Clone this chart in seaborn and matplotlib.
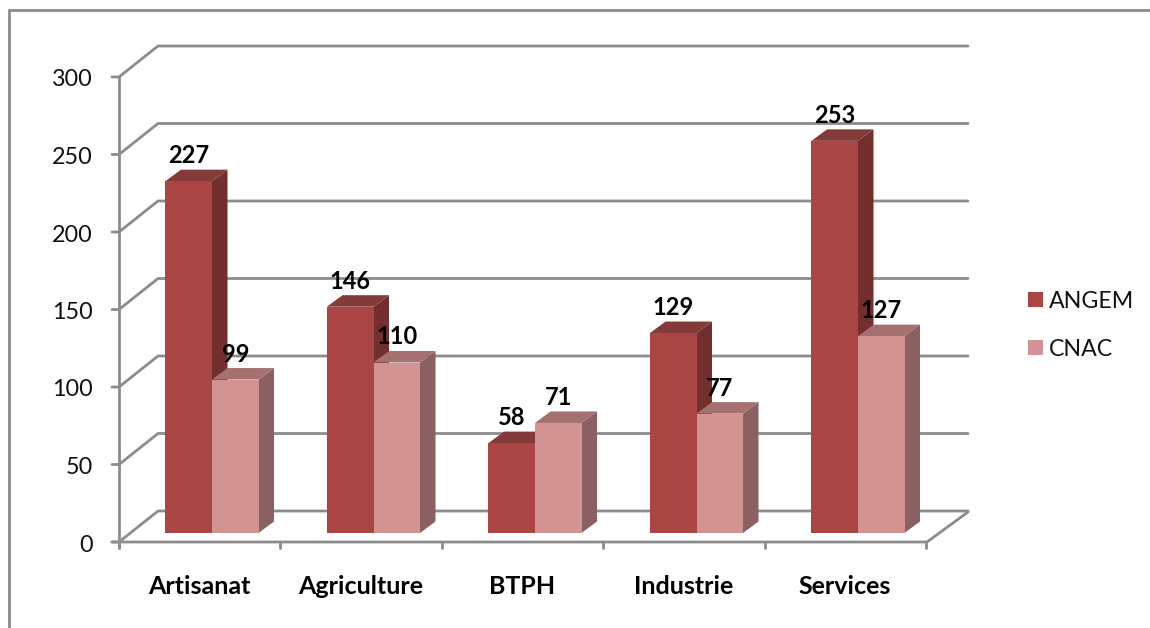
import numpy as np
import pandas as pd
import matplotlib
matplotlib.use("Agg")
import matplotlib.pyplot as plt
from matplotlib.patches import Polygon
import seaborn as sns

# data
categories = ["Artisanat", "Agriculture", "BTPH", "Industrie", "Services"]
angem = [227, 146, 58, 129, 253]
cnac = [99, 110, 71, 77, 127]
y_ticks = [0, 50, 100, 150, 200, 250, 300]

W, H = 1150, 628
CAT_PX = 161.5      # one category in pixels
UNIT_PX = 1.55      # one value unit in pixels
X0_PX, Y0_PX = 212, 533  # where category 0 / value 0 of the bars land

GRID = "#8c8c8c"
FRONT = {"ANGEM": "#a94643", "CNAC": "#d39392"}
SIDE = {"ANGEM": "#722f2d", "CNAC": "#8a6060"}
TOP = {"ANGEM": "#843a38", "CNAC": "#a47170"}


def px(x):
	return (x - X0_PX) / CAT_PX

def py(y):
	return (Y0_PX - y) / UNIT_PX

def dpx(d):
	return d / CAT_PX

def dpy(d):
	return d / UNIT_PX


sns.set_theme(style="white")
plt.rcParams['font.family'] = ['Lato', 'DejaVu Sans']

df = pd.DataFrame({
	"cat": categories * 2,
	"serie": ["ANGEM"] * 5 + ["CNAC"] * 5,
	"val": angem + cnac,
})

fig = plt.figure(figsize=(W / 100, H / 100), dpi=100, facecolor="white")
ax = fig.add_axes([0, 0, 1, 1])

sns.barplot(data=df, x="cat", y="val", hue="serie", palette=FRONT, width=0.576, gap=0,
			saturation=1, linewidth=0, ax=ax, zorder=5)
ax.set_xlim(px(0), px(W))
ax.set_ylim(py(H), py(0))
ax.set_xlabel("")
ax.set_ylabel("")
ax.set_xticks([])
ax.set_yticks([])
for s in ax.spines.values():
	s.set_visible(False)

lw = 2.0
# outer frame of the chart area (open at right and bottom, like the source crop)
ax.plot([px(8.5), px(8.5)], [py(H), py(10)], color=GRID, lw=lw, zorder=1)
ax.plot([px(8.5), px(1150)], [py(10), py(10)], color=GRID, lw=lw, zorder=1)

# walls
x_l, x_b, x_r, x_br = 119, 158, 927, 968
for v in y_ticks:
	yf = 542 - UNIT_PX * v
	yb = yf - 31
	ax.plot([px(112), px(x_l), px(x_b), px(x_br)], [py(yf), py(yf), py(yb), py(yb)], color=GRID, lw=lw, zorder=1,
			solid_joinstyle="miter")
	ax.text(px(93), py(yf + 3), str(v), ha="right", va="center", fontsize=16.8, color="#111111")
ax.plot([px(x_l), px(x_l)], [py(548), py(77)], color=GRID, lw=lw, zorder=1)
ax.plot([px(112), px(x_r), px(x_br)], [py(542), py(542), py(512)], color=GRID, lw=lw, zorder=2)
for i in range(len(categories) + 1):
	ax.plot([i - 0.576, i - 0.576], [py(542), py(548)], color=GRID, lw=lw, zorder=2)

# depth faces, built from the bars seaborn drew
dx, dy = dpx(15.5), dpy(11.5)
for container, serie in zip(ax.containers, ["ANGEM", "CNAC"]):
	for bar in container:
		x, w, h = bar.get_x(), bar.get_width(), bar.get_height()
		ax.add_patch(Polygon([(x + w, 0), (x + w + dx, dy), (x + w + dx, h + dy), (x + w, h)],
							 fc=SIDE[serie], ec="none", zorder=4))
		ax.add_patch(Polygon([(x, h), (x + dx, h + dy), (x + w + dx, h + dy), (x + w, h)],
							 fc=TOP[serie], ec="none", zorder=4))
		ax.text(x + w / 2, h + dpy(25.5), f"{h:.0f}", ha="center", va="center", fontsize=17,
				fontweight="bold", color="black", zorder=8)

for i, c in enumerate(categories):
	ax.text(i - 0.08, py(587), c, ha="center", va="center", fontsize=18, fontweight="bold", color="black")

leg = ax.legend(loc="upper left", bbox_to_anchor=(1007 / W, 1 - 270 / H), frameon=False, fontsize=16.7,
				handlelength=0.65, handleheight=0.65, handletextpad=0.26, labelspacing=1.15, borderpad=0.4)
for t in leg.get_texts():
	t.set_color("#111111")

fig.savefig("out.png", dpi=100)
